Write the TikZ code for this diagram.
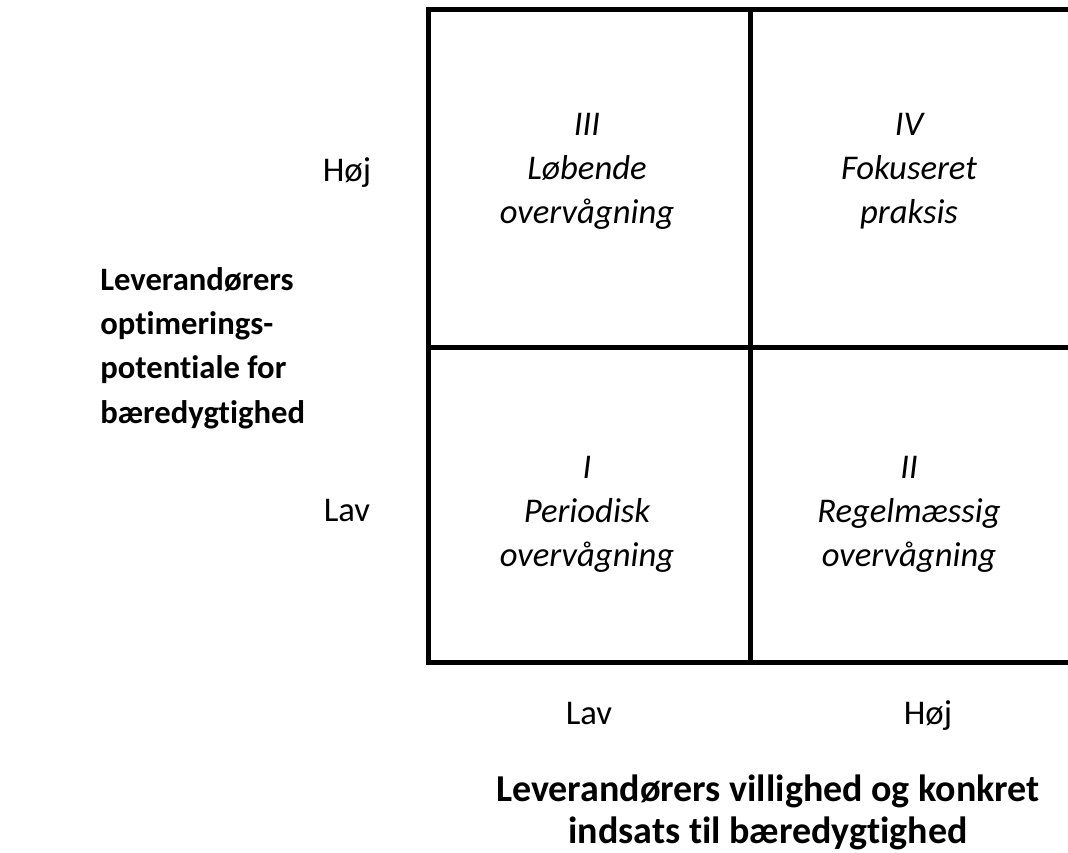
\documentclass[tikz,border=0pt]{standalone}
\usepackage{fontspec}
\setmainfont[Ligatures=NoCommon]{Carlito}
\usetikzlibrary{positioning}

\begin{document}
\begin{tikzpicture}[x=0.75pt,y=-0.75pt,
    quadtext/.style={font=\fontsize{26}{33}\selectfont\itshape, align=center, inner sep=0pt, anchor=base},
    axistext/.style={font=\fontsize{26}{32}\selectfont, inner sep=0pt, anchor=base},
    axistitle/.style={font=\bfseries, inner sep=0pt}]
    \useasboundingbox (0,0) rectangle (1068,853);
    % Rammen og krydset
    \draw[line width=3.75pt] (1080,9.5) -- (428.5,9.5) -- (428.5,662.5) -- (1080,662.5);
    \draw[line width=3.75pt] (750,9.5) -- (750,662.5);
    \draw[line width=3.75pt] (428.5,347.5) -- (1080,347.5);
    % Felternes tekst
    \node[quadtext] (felt3) at (587,223) {III\\Løbende\\overvågning};
    \node[quadtext] (felt4) at (909,223) {IV\\Fokuseret\\praksis};
    \node[quadtext] (felt1) at (587,566) {I\\Periodisk\\overvågning};
    \node[quadtext] (felt2) at (909,566) {II\\Regelmæssig\\overvågning};
    % Niveauer paa akserne
    \node[axistext] (yhoej) at (347,181) {Høj};
    \node[axistext] (ylav) at (347,521) {Lav};
    \node[axistext] (xlav) at (589,724) {Lav};
    \node[axistext] (xhoej) at (928,724) {Høj};
    % Aksetitler
    \node[axistitle, font=\fontsize{24.5}{33.25}\selectfont\bfseries, align=left, anchor=base west] (ytitel) at (100,423) {Leverandørers\\optimerings-\\potentiale for\\bæredygtighed};
    \node[axistitle, font=\fontsize{28.5}{31.5}\selectfont\bfseries, align=center, anchor=base] (xtitel) at (768,843) {Leverandørers villighed og konkret\\indsats til bæredygtighed};
\end{tikzpicture}
\end{document}
